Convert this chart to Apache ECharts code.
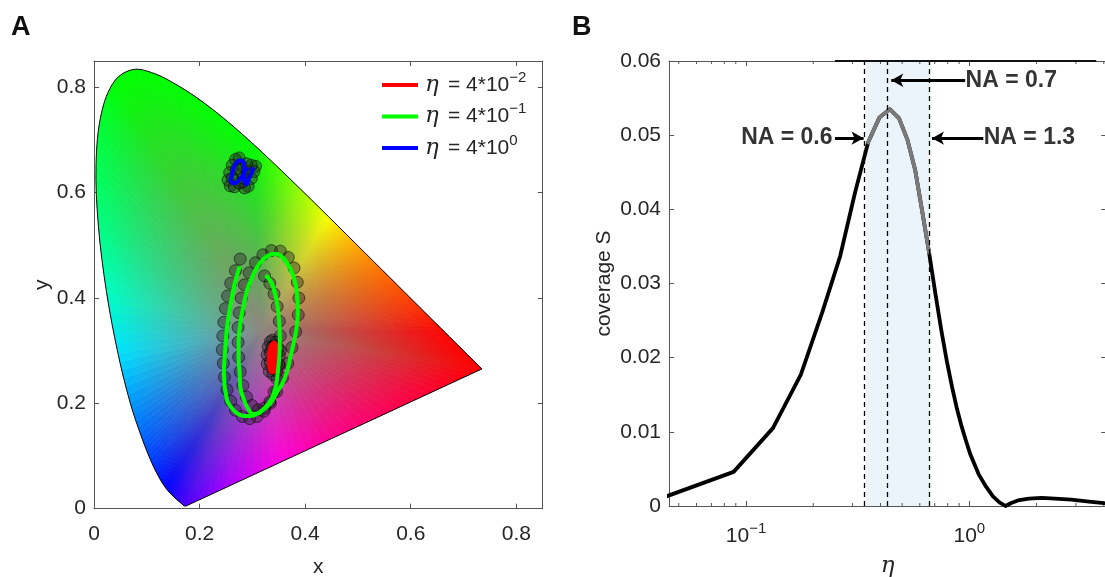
<!DOCTYPE html>
<html>
<head>
<meta charset="utf-8">
<script src="https://cdn.jsdelivr.net/npm/echarts@6/dist/echarts.min.js"></script>
<style>
html,body{margin:0;padding:0;background:#fff;}
#chart{width:1105px;height:577px;}
</style>
</head>
<body>
<div id="chart"></div>
<script>
// ---------- Panel A: CIE 1931 chromaticity diagram ----------
// spectral locus (x, y), 380 nm .. 700 nm
const spectralLocus = [
  [0.1741,0.0050],[0.1714,0.0051],[0.1703,0.0058],[0.1689,0.0069],[0.1669,0.0086],
  [0.1644,0.0109],[0.1611,0.0138],[0.1566,0.0177],[0.1510,0.0227],[0.1440,0.0297],
  [0.1355,0.0399],[0.1241,0.0578],[0.1096,0.0868],[0.0913,0.1327],[0.0687,0.2007],
  [0.0454,0.2950],[0.0235,0.4127],[0.0082,0.5384],[0.0039,0.6548],[0.0139,0.7502],
  [0.0389,0.8120],[0.0743,0.8338],[0.1142,0.8262],[0.1547,0.8059],[0.1929,0.7816],
  [0.2296,0.7543],[0.2658,0.7243],[0.3016,0.6923],[0.3373,0.6589],[0.3731,0.6245],
  [0.4087,0.5896],[0.4441,0.5547],[0.4788,0.5202],[0.5125,0.4866],[0.5448,0.4544],
  [0.5752,0.4242],[0.6029,0.3965],[0.6270,0.3725],[0.6482,0.3514],[0.6658,0.3340],
  [0.6801,0.3197],[0.6915,0.3083],[0.7006,0.2993],[0.7079,0.2920],[0.7140,0.2859],
  [0.7190,0.2809],[0.7260,0.2740],[0.7300,0.2700],[0.7347,0.2653]
];
// line of purples, from 700 nm back to 380 nm
const purpleLine = [
  [0.65,0.2260],[0.55,0.1795],[0.45,0.1331],[0.35,0.0867],[0.25,0.0402]
];
const gamutCenter = [0.32, 0.34];
const gamutCenterColor = [142, 134, 128];

// chromaticity trajectories for the three η values
const traceRed = [
  [0.338,0.316],[0.343,0.313],[0.347,0.303],[0.348,0.289],[0.347,0.274],[0.343,0.263],
  [0.338,0.259],[0.334,0.264],[0.332,0.277],[0.332,0.292],[0.334,0.305],[0.338,0.312],
  [0.342,0.307],[0.344,0.295],[0.344,0.281],[0.341,0.270],[0.338,0.270],[0.337,0.282],
  [0.337,0.295],[0.339,0.302]
];
const traceGreen = [
  [0.276,0.460],[0.266,0.425],[0.258,0.383],[0.252,0.345],[0.249,0.307],[0.246,0.257],
  [0.252,0.206],[0.262,0.190],[0.271,0.181],[0.284,0.176],[0.296,0.176],[0.315,0.184],
  [0.334,0.200],[0.347,0.222],[0.357,0.238],[0.366,0.262],[0.372,0.288],[0.379,0.318],
  [0.384,0.345],[0.386,0.375],[0.385,0.402],[0.382,0.426],[0.376,0.446],[0.366,0.466],
  [0.353,0.481],[0.341,0.484],[0.331,0.481],[0.319,0.472],[0.309,0.459],[0.299,0.438],
  [0.290,0.415],[0.283,0.384],[0.277,0.351],[0.274,0.318],[0.274,0.288],[0.276,0.255],
  [0.277,0.231],[0.283,0.210],[0.290,0.193],[0.302,0.180],[0.312,0.181],[0.319,0.187],
  [0.329,0.198],[0.338,0.212],[0.345,0.235],[0.348,0.257],[0.351,0.288],[0.352,0.320],
  [0.351,0.352],[0.348,0.383],[0.343,0.408],[0.337,0.427],[0.331,0.437],[0.325,0.443]
];
const traceBlue = [
  [0.302,0.648],[0.299,0.639],[0.294,0.627],[0.289,0.616],[0.285,0.622],[0.284,0.635],
  [0.284,0.651],[0.280,0.661],[0.275,0.661],[0.269,0.656],[0.264,0.645],[0.261,0.633],
  [0.259,0.623],[0.265,0.618],[0.273,0.622],[0.280,0.630],[0.286,0.640],[0.292,0.647]
];
// measured chromaticities (markers)
const pointsRed = [
  [0.338,0.320],[0.344,0.316],[0.349,0.305],[0.351,0.290],[0.350,0.274],[0.346,0.261],
  [0.339,0.255],[0.332,0.261],[0.328,0.275],[0.328,0.292],[0.330,0.307],[0.334,0.317],
  [0.341,0.309],[0.345,0.293],[0.344,0.275],[0.339,0.266],[0.334,0.278],[0.334,0.296],
  [0.337,0.306],[0.342,0.300],[0.341,0.282]
];
const pointsGreen = [
  [0.277,0.474],[0.268,0.452],[0.259,0.428],[0.253,0.404],[0.249,0.380],[0.246,0.354],
  [0.244,0.328],[0.243,0.302],[0.245,0.276],[0.247,0.250],[0.252,0.226],[0.259,0.204],
  [0.268,0.187],[0.281,0.175],[0.295,0.171],[0.309,0.175],[0.322,0.185],[0.334,0.200],
  [0.346,0.222],[0.357,0.248],[0.367,0.276],[0.375,0.306],[0.382,0.336],[0.387,0.368],
  [0.388,0.400],[0.385,0.430],[0.379,0.457],[0.368,0.477],[0.353,0.489],[0.336,0.490],
  [0.320,0.482],[0.306,0.467],[0.294,0.448],[0.285,0.425],[0.279,0.400],[0.275,0.372],
  [0.273,0.344],[0.273,0.316],[0.274,0.288],[0.277,0.260],[0.282,0.234],[0.289,0.212],
  [0.299,0.196],[0.311,0.188],[0.323,0.191],[0.333,0.203],[0.341,0.222],[0.347,0.246],
  [0.351,0.272],[0.353,0.300],[0.353,0.328],[0.351,0.356],[0.347,0.384],[0.341,0.408],
  [0.333,0.428],[0.323,0.442]
];
const pointsBlue = [
  [0.306,0.650],[0.303,0.640],[0.298,0.627],[0.292,0.612],[0.285,0.609],[0.281,0.620],
  [0.280,0.636],[0.279,0.652],[0.275,0.666],[0.268,0.663],[0.262,0.652],[0.257,0.638],
  [0.254,0.624],[0.258,0.613],[0.266,0.611],[0.275,0.618],[0.283,0.628],[0.291,0.640],
  [0.298,0.652],[0.289,0.655],[0.270,0.645],[0.262,0.628]
];

// ---------- Panel B: coverage versus η ----------
const etaValues = [
  0.044,0.088,0.132,0.176,0.220,0.264,0.308,0.352,0.396,0.440,0.484,0.528,
  0.572,0.616,0.660,0.704,0.748,0.792,0.836,0.880,0.924,0.968,1.012,1.100,
  1.188,1.276,1.364,1.452,1.540,1.672,1.848,2.112,2.420,2.860,3.432,4.004
];
const coverageValues = [
  0.0013,0.0046,0.0105,0.0177,0.0262,0.0337,0.0423,0.0490,0.0524,0.0535,0.0523,0.0494,
  0.0453,0.0396,0.0342,0.0287,0.0238,0.0196,0.0161,0.0131,0.0107,0.0087,0.0069,0.0043,
  0.0026,0.0013,0.0005,0.0000,0.0004,0.0008,0.0010,0.0011,0.0010,0.00085,0.0006,0.0004
];
const highlightFrom = 7, highlightTo = 14;       // index range drawn in gray
const naLines = [0.345, 0.435, 0.66];            // NA = 0.6, 0.7, 1.3
const naLabels = ['NA = 0.6', 'NA = 0.7', 'NA = 1.3'];
const minorTickValues = [0.05,0.06,0.07,0.08,0.09,0.2,0.3,0.4,0.5,0.6,0.7,0.8,0.9,2,3,4];

// ---------- helpers ----------
const FONT = 'Liberation Sans, Arial, Helvetica, sans-serif';
const AXIS_GRAY = '#555555';
const LABEL_COLOR = '#262626';

// chromaticity -> display colour at full brightness
function xyToRgb(x, y) {
  const X = x / y, Y = 1, Z = (1 - x - y) / y;
  let r = 3.2406 * X - 1.5372 * Y - 0.4986 * Z;
  let g = -0.9689 * X + 1.8758 * Y + 0.0415 * Z;
  let b = 0.0557 * X - 0.2040 * Y + 1.0570 * Z;
  r = Math.max(r, 0); g = Math.max(g, 0); b = Math.max(b, 0);
  const m = Math.max(r, g, b);
  return [r, g, b].map(v => 255 * Math.pow(v / m, 1 / 1.5));
}
const rgbStr = c => 'rgb(' + c.map(v => Math.round(v)).join(',') + ')';
const mixRgb = (a, b, t) => a.map((v, k) => v + (b[k] - v) * t);

const gamutBoundary = spectralLocus.concat(purpleLine);
const boundaryColors = gamutBoundary.map(p => xyToRgb(p[0], p[1]));

// Gouraud-style fill: triangle fan around a neutral point, each boundary
// edge split into short pieces, each piece shaded by a gradient running
// perpendicular to its outer edge; clipped to the smoothed locus.
function renderGamut(params, api) {
  const pts = gamutBoundary.map(p => api.coord(p));
  const n = pts.length;
  const o = api.coord(gamutCenter);
  const c0 = gamutCenterColor;
  const children = [];
  const SUB = 6, GROW = 1.12;
  for (let i = 0; i < n; i++) {
    const j = (i + 1) % n;
    for (let s = 0; s < SUB; s++) {
      const t0 = s / SUB, t1 = (s + 1) / SUB;
      const a = [pts[i][0] + (pts[j][0] - pts[i][0]) * t0, pts[i][1] + (pts[j][1] - pts[i][1]) * t0];
      const b = [pts[i][0] + (pts[j][0] - pts[i][0]) * t1, pts[i][1] + (pts[j][1] - pts[i][1]) * t1];
      const ec = mixRgb(boundaryColors[i], boundaryColors[j], (t0 + t1) / 2);
      const ex = b[0] - a[0], ey = b[1] - a[1];
      const len2 = ex * ex + ey * ey || 1e-9;
      const u = ((o[0] - a[0]) * ex + (o[1] - a[1]) * ey) / len2;
      const fx = a[0] + ex * u, fy = a[1] + ey * u;
      const grad = new echarts.graphic.LinearGradient(o[0], o[1], fx, fy, [
        { offset: 0, color: rgbStr(c0) },
        { offset: 1, color: rgbStr(ec) }
      ], true);
      const ga = [o[0] + (a[0] - o[0]) * GROW, o[1] + (a[1] - o[1]) * GROW];
      const gb = [o[0] + (b[0] - o[0]) * GROW, o[1] + (b[1] - o[1]) * GROW];
      children.push({
        type: 'polygon',
        shape: { points: [o, ga, gb] },
        style: { fill: grad, stroke: grad, lineWidth: 0.8 }
      });
    }
  }
  // corners of the gamut stay sharp: repeat those vertices for the smoothing
  const outline = [];
  pts.forEach((p, i) => {
    outline.push(p);
    if (i === 0 || i === spectralLocus.length - 1) outline.push(p);
  });
  const fill = {
    type: 'group',
    children,
    clipPath: { type: 'polygon', shape: { points: outline, smooth: 0.35 } }
  };
  const border = {
    type: 'polygon',
    shape: { points: outline, smooth: 0.35 },
    style: { fill: null, stroke: '#000', lineWidth: 1 }
  };
  return { type: 'group', children: [fill, border] };
}

function renderMinorTicks(params, api) {
  const v = api.value(0);
  const bottom = api.coord([v, 0]);
  const top = api.coord([v, 0.06]);
  const st = { stroke: AXIS_GRAY, lineWidth: 1 };
  return {
    type: 'group',
    children: [
      { type: 'line', shape: { x1: bottom[0], y1: bottom[1], x2: bottom[0], y2: bottom[1] - 3 }, style: st },
      { type: 'line', shape: { x1: top[0], y1: top[1], x2: top[0], y2: top[1] + 3 }, style: st }
    ]
  };
}

const tickLabel = { color: LABEL_COLOR, fontFamily: FONT, fontSize: 21 };
const axisLineStyle = { lineStyle: { color: AXIS_GRAY, width: 1 } };
const supRich = {
  b: { fontSize: 21, fontFamily: FONT, color: LABEL_COLOR, lineHeight: 30 },
  s: { fontSize: 15, fontFamily: FONT, color: LABEL_COLOR, lineHeight: 14, verticalAlign: 'top' },
  e: { fontSize: 23, fontFamily: 'DejaVu Serif, serif', fontStyle: 'italic', color: LABEL_COLOR, lineHeight: 30 }
};

function linearAxis(grid, pos, showLabel, min, max, interval, extra) {
  return Object.assign({
    type: 'value', gridIndex: grid, position: pos, min, max, interval,
    axisLine: Object.assign({ show: true, onZero: false }, axisLineStyle),
    axisTick: { show: true, inside: true, length: 5, lineStyle: { color: AXIS_GRAY } },
    splitLine: { show: false },
    axisLabel: showLabel ? Object.assign({ showMaxLabel: false }, tickLabel) : { show: false }
  }, extra || {});
}

function logAxis(pos, showLabel, extra) {
  return Object.assign({
    type: 'log', logBase: 10, gridIndex: 1, position: pos, min: 0.0452, max: 4.1,
    axisLine: Object.assign({ show: true, onZero: false }, axisLineStyle),
    axisTick: { show: true, inside: true, length: 5, lineStyle: { color: AXIS_GRAY } },
    minorTick: { show: false },
    splitLine: { show: false },
    axisLabel: showLabel ? {
      margin: 15,
      showMinLabel: false, showMaxLabel: false,
      formatter: v => {
        if (Math.abs(v - 0.1) < 1e-9) return '{b|10}{s|−1}';
        if (Math.abs(v - 1) < 1e-9) return '{b|10}{s|0}';
        return '';
      },
      rich: supRich
    } : { show: false }
  }, extra || {});
}

const legendNames = { r: '−2', g: '−1', bl: '0' };

const option = {
  animation: false,
  backgroundColor: '#ffffff',
  title: [
    { text: 'A', left: 11, top: 14, padding: 0, textStyle: { fontFamily: FONT, fontWeight: 'bold', fontSize: 27, color: '#111' } },
    { text: 'B', left: 572, top: 14, padding: 0, textStyle: { fontFamily: FONT, fontWeight: 'bold', fontSize: 27, color: '#111' } }
  ],
  grid: [
    { left: 94, top: 61, width: 448.7, height: 447.7, outerBoundsMode: 'none', containLabel: false },
    { left: 669, top: 61, width: 437.2, height: 445, outerBoundsMode: 'none', containLabel: false }
  ],
  legend: {
    left: 377, top: 65, orient: 'vertical',
    data: ['r', 'g', 'bl'],
    icon: 'rect', itemWidth: 36, itemHeight: 4, itemGap: 5,
    selectedMode: false,
    formatter: n => '{e|η} {b| = 4*10}{s|' + legendNames[n] + '}',
    textStyle: { rich: supRich, padding: [0, 0, 0, 2] }
  },
  xAxis: [
    linearAxis(0, 'bottom', true, 0, 0.85, 0.2, {
      name: 'x', nameLocation: 'middle', nameGap: 48,
      nameTextStyle: { fontFamily: FONT, fontSize: 21, color: LABEL_COLOR },
      axisLabel: Object.assign({ showMaxLabel: false, margin: 15 }, tickLabel)
    }),
    linearAxis(0, 'top', false, 0, 0.85, 0.2),
    logAxis('bottom', true, {
      name: 'η', nameLocation: 'middle', nameGap: 49,
      nameTextStyle: { fontFamily: 'DejaVu Serif, serif', fontStyle: 'italic', fontSize: 23, color: LABEL_COLOR }
    }),
    logAxis('top', false)
  ],
  yAxis: [
    linearAxis(0, 'left', true, 0, 0.85, 0.2, {
      name: 'y', nameLocation: 'middle', nameGap: 41,
      nameTextStyle: { fontFamily: FONT, fontSize: 21, color: LABEL_COLOR },
      axisLabel: Object.assign({ showMaxLabel: false, margin: 8 }, tickLabel)
    }),
    linearAxis(0, 'right', false, 0, 0.85, 0.2),
    linearAxis(1, 'left', true, 0, 0.06, 0.01, {
      name: 'coverage S', nameLocation: 'middle', nameGap: 54,
      nameTextStyle: { fontFamily: FONT, fontSize: 21, color: LABEL_COLOR },
      axisLabel: Object.assign({ margin: 8, formatter: v => (v === 0 ? '0' : v.toFixed(2)) }, tickLabel)
    }),
    linearAxis(1, 'right', false, 0, 0.06, 0.01)
  ],
  series: [
    // ---- panel A ----
    {
      type: 'custom', xAxisIndex: 0, yAxisIndex: 0, silent: true, z: 1,
      data: [gamutCenter], renderItem: renderGamut, clip: false
    },
    ...[pointsGreen, pointsRed, pointsBlue].map(pts => ({
      type: 'scatter', xAxisIndex: 0, yAxisIndex: 0, silent: true, z: 3,
      data: pts, symbol: 'circle', symbolSize: 12,
      itemStyle: { color: 'rgba(35,35,35,0.4)', borderColor: 'rgba(0,0,0,0.75)', borderWidth: 0.7, opacity: 1 }
    })),
    {
      name: 'r', type: 'line', xAxisIndex: 0, yAxisIndex: 0, silent: true, z: 4,
      data: traceRed, symbol: 'none', smooth: 0.4,
      itemStyle: { color: '#ff0000' }, lineStyle: { color: '#ff0000', width: 4.5 }
    },
    {
      name: 'g', type: 'line', xAxisIndex: 0, yAxisIndex: 0, silent: true, z: 4,
      data: traceGreen, symbol: 'none', smooth: 0.4,
      itemStyle: { color: '#00ff00' }, lineStyle: { color: '#00ff00', width: 4 }
    },
    {
      name: 'bl', type: 'line', xAxisIndex: 0, yAxisIndex: 0, silent: true, z: 4,
      data: traceBlue, symbol: 'none', smooth: 0.4,
      itemStyle: { color: '#0000ff' }, lineStyle: { color: '#0000ff', width: 4 }
    },
    // ---- panel B ----
    {
      type: 'line', xAxisIndex: 2, yAxisIndex: 2, silent: true, z: 1,
      data: [[naLines[0], 0], [naLines[2], 0]], symbol: 'none', lineStyle: { opacity: 0 },
      markArea: {
        silent: true,
        itemStyle: { color: '#EBF3FB' },
        data: [[{ xAxis: naLines[0] }, { xAxis: naLines[2] }]]
      }
    },
    {
      type: 'custom', xAxisIndex: 2, yAxisIndex: 2, silent: true, z: 2,
      data: minorTickValues.map(v => [v, 0]), renderItem: renderMinorTicks, clip: false
    },
    {
      type: 'line', xAxisIndex: 2, yAxisIndex: 2, silent: true, z: 2,
      data: [[naLines[0], 0], [naLines[2], 0]], symbol: 'none', lineStyle: { opacity: 0 },
      markLine: {
        silent: true, symbol: ['none', 'none'], label: { show: false },
        lineStyle: { color: '#000', width: 1.3, type: [5, 4] },
        data: naLines.map(v => ({ xAxis: v })).concat([
          [{ coord: [0.25, 0.06], lineStyle: { type: 'solid', width: 2, color: '#111' } }, { coord: [3.7, 0.06] }]
        ])
      }
    },
    {
      type: 'line', xAxisIndex: 2, yAxisIndex: 2, silent: true, z: 3,
      data: etaValues.map((v, i) => [v, coverageValues[i]]), symbol: 'none',
      lineStyle: { color: '#000', width: 3.8, cap: 'round', join: 'round' }
    },
    {
      type: 'line', xAxisIndex: 2, yAxisIndex: 2, silent: true, z: 4,
      data: etaValues.slice(highlightFrom, highlightTo + 1).map((v, i) => [v, coverageValues[highlightFrom + i]]),
      symbol: 'none',
      lineStyle: { color: '#7a7a7a', width: 3.8, cap: 'round', join: 'round' }
    },
    {
      type: 'scatter', xAxisIndex: 2, yAxisIndex: 2, silent: true, z: 5,
      symbolSize: 0,
      data: [
        { value: [0.244, 0.0496], label: { position: 'left', formatter: naLabels[0] } },
        { value: [0.962, 0.0574], label: { position: 'right', formatter: naLabels[1] } },
        { value: [1.16, 0.0496], label: { position: 'right', formatter: naLabels[2] } }
      ],
      label: { show: true, distance: 0, fontFamily: FONT, fontWeight: 'bold', fontSize: 23, color: '#000', textBorderWidth: 0 },
      markLine: {
        silent: true, symbol: ['none', 'arrow'], symbolSize: [10, 12],
        label: { show: false },
        lineStyle: { color: '#000', width: 3, type: 'solid' },
        data: [
          [{ coord: [0.250, 0.0496] }, { coord: [0.336, 0.0496] }],
          [{ coord: [0.958, 0.0574] }, { coord: [0.447, 0.0574] }],
          [{ coord: [1.155, 0.0496] }, { coord: [0.680, 0.0496] }]
        ]
      }
    }
  ]
};

const chart = echarts.init(document.getElementById('chart'), null, { renderer: 'canvas' });
chart.setOption(option);
</script>
</body>
</html>
